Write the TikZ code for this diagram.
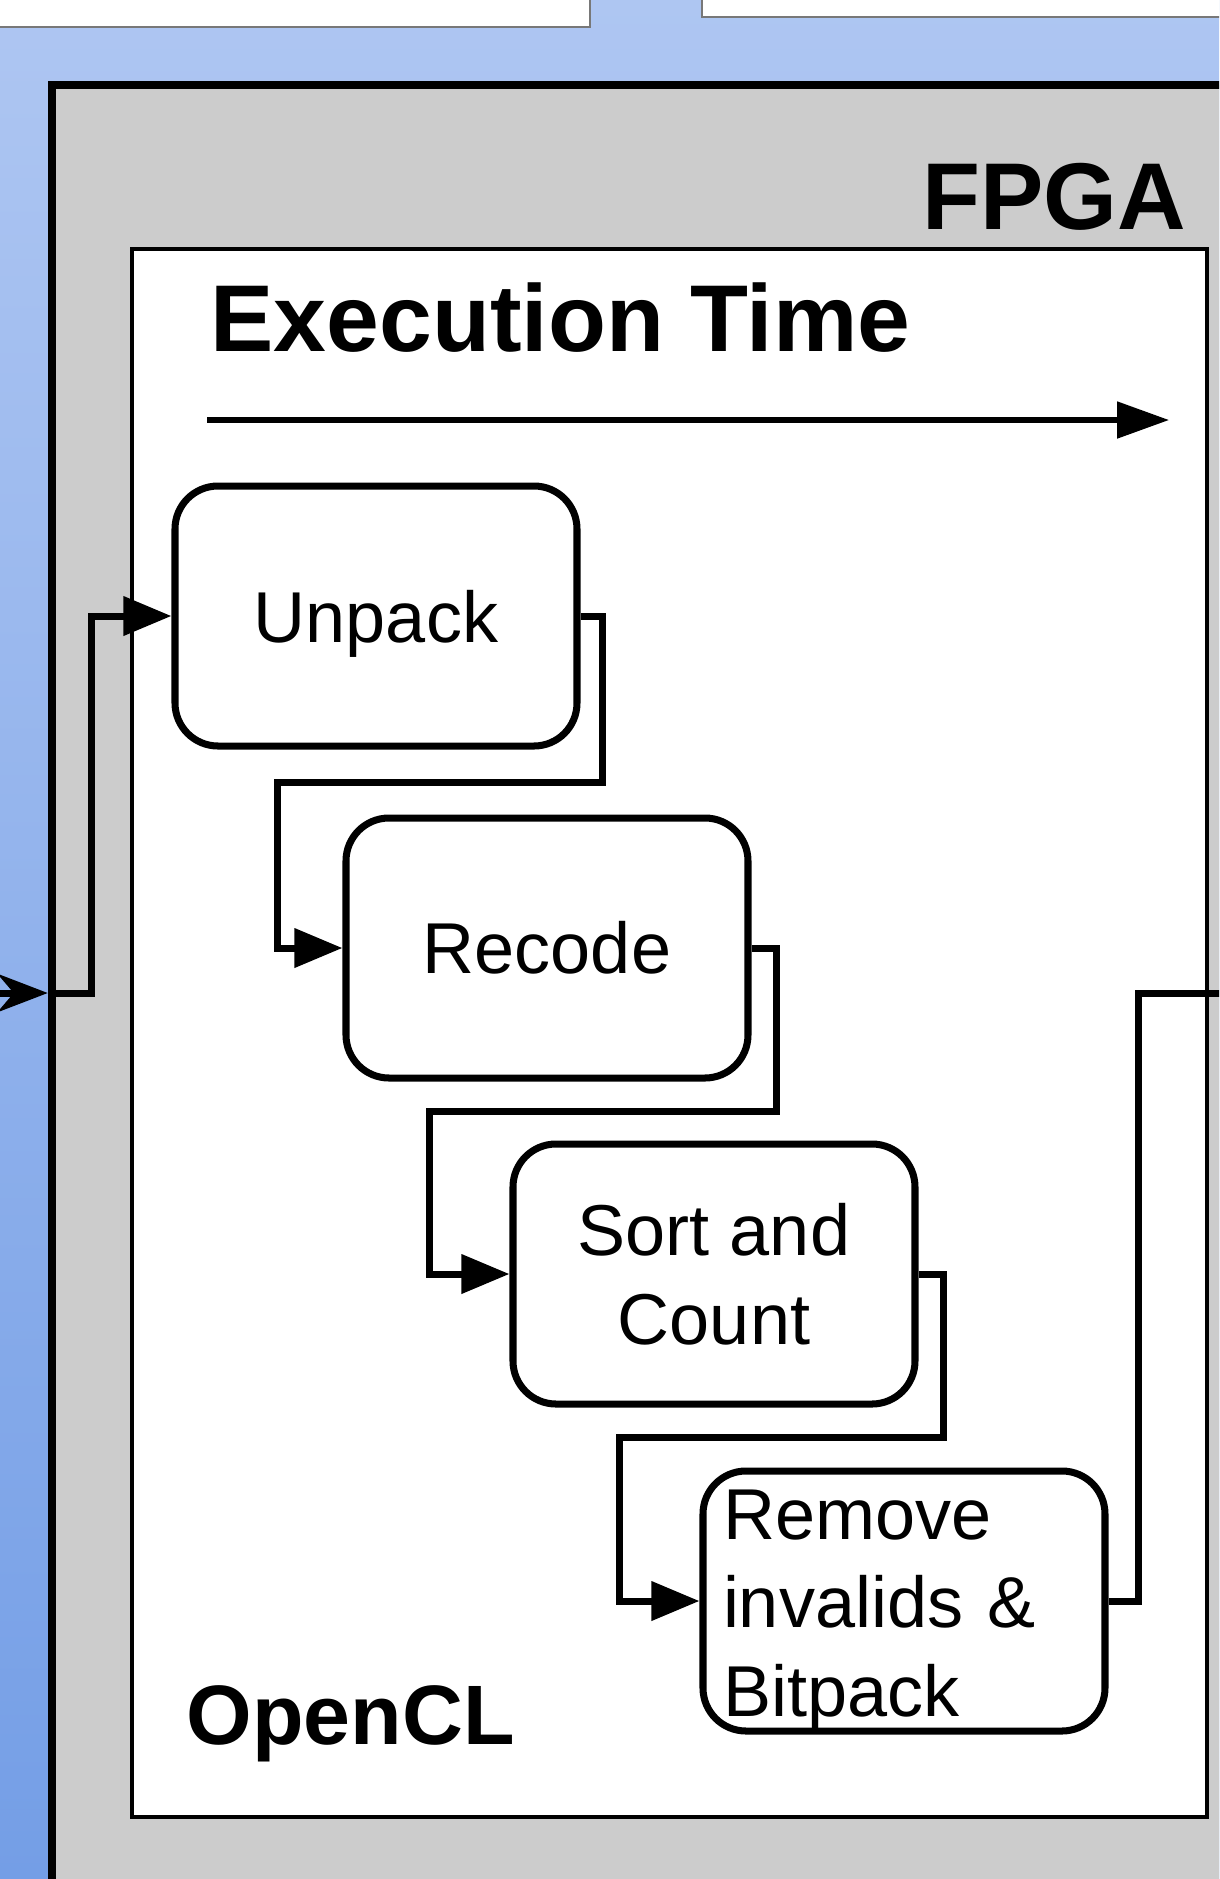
\documentclass[tikz,border=0pt]{standalone}
\usepackage{fontspec}
\setmainfont{Liberation Sans}
\usepackage{xcolor}
\usepackage{tikz}
\usetikzlibrary{arrows.meta,positioning,calc}
\definecolor{bgtop}{RGB}{174,198,242}
\definecolor{bgbottom}{RGB}{116,158,230}
\definecolor{fpgagray}{RGB}{204,204,204}
\definecolor{framegray}{RGB}{120,120,120}
\tikzset{
  stage/.style={rectangle, rounded corners=4.3mm, draw=black, line width=2pt, fill=white,
                minimum width=4.02cm, minimum height=2.6cm,
                font=\fontsize{20.5}{25.2}\selectfont, text centered, align=center},
  flow/.style={-{Triangle[length=4.8mm, width=3.8mm]}, line width=2pt},
  wire/.style={line width=2pt},
  heading/.style={font=\fontsize{27}{32}\selectfont\bfseries, inner sep=0pt},
  hostbox/.style={fill=white, draw=framegray, line width=0.6pt},
}

\begin{document}
\begin{tikzpicture}[x=0.1mm, y=-0.1mm]
        \useasboundingbox (0,0) rectangle (1219,1879);
        \clip (0,0) rectangle (1219,1879);

        % Background
        \shade[top color=bgtop, bottom color=bgbottom] (0,0) rectangle (1219,1879);

        % Host boxes
        \draw[hostbox] (-20,-20) rectangle (590,27);
        \draw[hostbox] (702,-20) rectangle (1260,17);

        % FPGA and OpenCL frames
        \node[draw, line width=2.3pt, fill=fpgagray, outer sep=0pt, anchor=north west,
              minimum width=13cm, minimum height=19cm] (fpga) at (52,85) {};
        \node[draw, line width=1pt, fill=white, outer sep=0pt, anchor=north west,
              minimum width=10.75cm, minimum height=15.68cm] (opencl) at (132,249) {};

        % Labels
        \node[heading, anchor=base east] (fpgalabel) at (1187,229) {FPGA};
        \node[heading, anchor=base west] (timelabel) at (210,351) {Execution Time};
        \node[heading, font=\fontsize{24}{28}\selectfont\bfseries, anchor=base west]
              (opencllabel) at (186,1744) {OpenCL};

        % Time axis
        \coordinate (tstart) at (207,420);
        \coordinate (tend) at (1169,420);
        \draw[-{Triangle[length=5.2mm, width=3.6mm]}, line width=1.5pt] (tstart) -- (tend);

        % Stages
        \node[stage, text depth=0pt] (unpack) at (376,616) {Unpack};
        \node[stage] (recode) at (547,948) {Recode};
        \node[stage] (sort)   at (714,1274) {Sort and\\Count};
        \node[stage, align=left, text width=3.62cm, inner xsep=2mm, inner ysep=0pt, text depth=17.3mm]
              (remove) at (904,1601) {Remove\\invalids \&\\Bitpack};

        % Input from host
        \coordinate (host) at (-30,993);
        \draw[-{Stealth[length=5mm, width=3.8mm, inset=1.6mm]}, line width=2pt, shorten >=1.2pt]
              (host) -- (host -| fpga.west);
        \draw[flow] (host -| fpga.west) -| ([xshift=-8mm]unpack.west) -- (unpack.west);

        % Stage to stage
        \draw[flow] (unpack.east) -- ++(22,0) -- ++(0,166) -| ([xshift=-6.5mm]recode.west) -- (recode.west);
        \draw[flow] (recode.east) -- ++(25,0) -- ++(0,163) -| ([xshift=-8mm]sort.west) -- (sort.west);
        \draw[flow] (sort.east) -- ++(25,0) -- ++(0,163) -| ([xshift=-8mm]remove.west) -- (remove.west);

        % Output to host
        \coordinate (hostout) at (1260,993);
        \draw[wire] (remove.east) -- ++(30,0) |- (hostout);
\end{tikzpicture}
\end{document}
